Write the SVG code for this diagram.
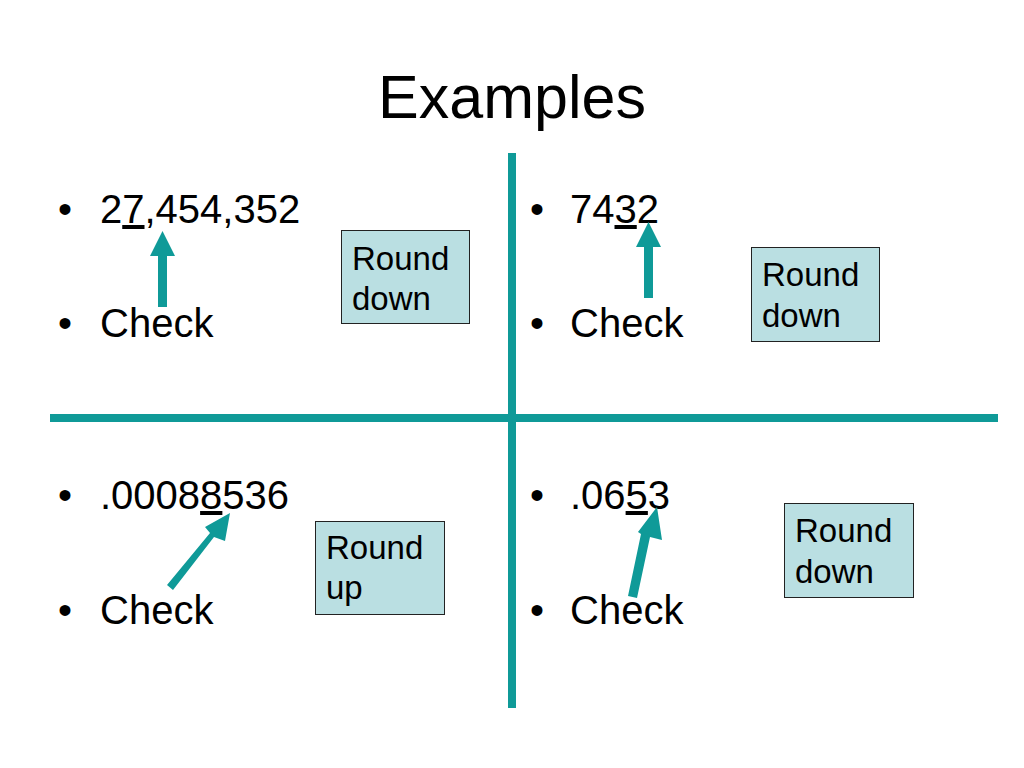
<svg xmlns="http://www.w3.org/2000/svg" width="1024" height="768" viewBox="0 0 1024 768">
<style>
text{font-family:"Liberation Sans",Arial,sans-serif;fill:#000}
.title{font-size:61px}
.body{font-size:40px}
.box{fill:#BADFE2;stroke:#222;stroke-width:1}
.lbl{font-size:33px}
.div{stroke:#0F9A98;stroke-width:8}
.arr{fill:#0F9A98}
.u{text-decoration:underline}
</style>
<rect width="1024" height="768" fill="#fff"/>
<g id="title"><text class="title" x="512" y="118" text-anchor="middle">Examples</text></g>
<g id="dividers">
<line class="div" x1="512" y1="153" x2="512" y2="708"/>
<line class="div" x1="50" y1="418" x2="998" y2="418"/>
</g>
<g id="q1">
<text class="body" x="58" y="223">•</text>
<text class="body" x="100" y="223">2<tspan class="u">7</tspan>,454,352</text>
<text class="body" x="58" y="337">•</text>
<text class="body" x="100" y="337">Check</text>
</g>
<g id="q2">
<text class="body" x="530" y="223">•</text>
<text class="body" x="570" y="223">74<tspan class="u">3</tspan>2</text>
<text class="body" x="530" y="337">•</text>
<text class="body" x="570" y="337">Check</text>
</g>
<g id="q3">
<text class="body" x="58" y="509">•</text>
<text class="body" x="100" y="509">.0008<tspan class="u">8</tspan>536</text>
<text class="body" x="58" y="624">•</text>
<text class="body" x="100" y="624">Check</text>
</g>
<g id="q4">
<text class="body" x="530" y="509">•</text>
<text class="body" x="570" y="509">.06<tspan class="u">5</tspan>3</text>
<text class="body" x="530" y="624">•</text>
<text class="body" x="570" y="624">Check</text>
</g>
<g id="box1"><rect class="box" x="341.5" y="230.5" width="128" height="93"/>
<text class="lbl" x="352" y="270">Round</text><text class="lbl" x="352" y="310">down</text></g>
<g id="box2"><rect class="box" x="751.5" y="247.5" width="128" height="94"/>
<text class="lbl" x="762" y="286">Round</text><text class="lbl" x="762" y="327">down</text></g>
<g id="box3"><rect class="box" x="315.5" y="521.5" width="129" height="93"/>
<text class="lbl" x="326" y="559">Round</text><text class="lbl" x="326" y="599">up</text></g>
<g id="box4"><rect class="box" x="784.5" y="503.5" width="129" height="94"/>
<text class="lbl" x="795" y="542">Round</text><text class="lbl" x="795" y="583">down</text></g>
<g id="connectors">
<polygon class="arr" points="158,307 158,256 150,256 162.5,231 175,256 167,256 167,307"/>
<polygon class="arr" points="644,298 644,247 636,247 648.5,222 661,247 653,247 653,298"/>
<polygon class="arr" points="167,585 173,590 214,537 225,541 230,513 205,527 210,533"/>
<polygon class="arr" points="628,596 637,598 650,537 662,540 657,507 638,532 641,534"/>
</g>
</svg>
